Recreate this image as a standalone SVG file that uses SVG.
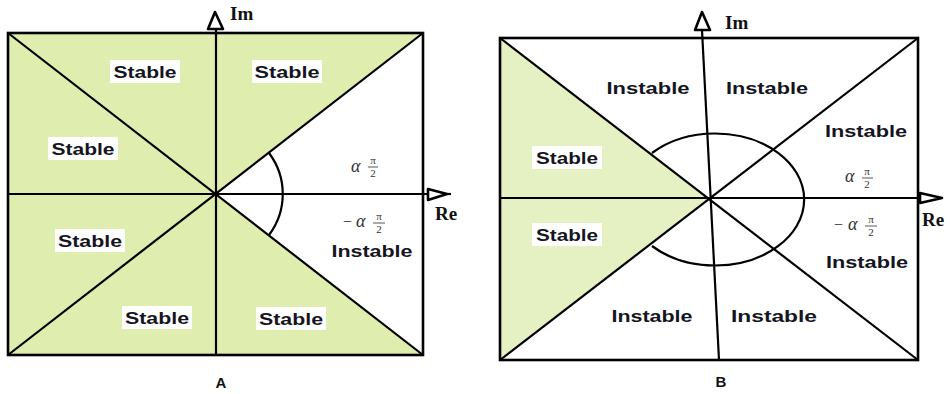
<svg xmlns="http://www.w3.org/2000/svg" width="950" height="394" viewBox="0 0 950 394">
<style>
.ln{stroke:#000;stroke-width:2.2;fill:none}
.bd{stroke:#000;stroke-width:2.6;fill:none}
.ar{stroke:#000;stroke-width:2.6;fill:#fff;stroke-linejoin:round}
.lab{font-family:"Liberation Sans",Arial,sans-serif;font-weight:bold;font-size:16px;fill:#151522;text-anchor:middle}
.box{fill:#fff}
.ax{font-family:"Liberation Serif","Times New Roman",serif;font-weight:bold;font-size:19px;fill:#111}
.m{font-family:"Liberation Serif","Times New Roman",serif;font-size:16px;fill:#333}
.mi{font-family:"Liberation Serif","Times New Roman",serif;font-style:italic;font-size:18px;fill:#333}
.fr{font-family:"Liberation Serif","Times New Roman",serif;font-size:11px;fill:#333;text-anchor:middle}
.cap{font-family:"Liberation Sans",Arial,sans-serif;font-weight:bold;font-size:15px;fill:#111;text-anchor:middle}
</style>
<rect width="950" height="394" fill="#fff"/>

<g id="panelA">
  <polygon points="8,33 423,33 215.5,194 423,355 8,355" fill="#dfedae"/>
  <line class="ln" x1="8" y1="33" x2="423" y2="355"/>
  <line class="ln" x1="8" y1="355" x2="423" y2="33"/>
  <path class="ln" d="M 269,153 A 68 68 0 0 1 269,235"/>
  <rect class="bd" x="8" y="33" width="415" height="322"/>
  <line class="ln" x1="216" y1="28" x2="216" y2="355"/>
  <line class="ln" x1="8" y1="194" x2="428" y2="194"/>
  <polygon class="ar" points="215,12 208,29 223,29"/>
  <polygon class="ar" points="428,189 428,200 447,194"/>
  <line class="ln" x1="447" y1="194" x2="451" y2="194"/>
  <text class="ax" x="230" y="20">Im</text>
  <text class="ax" x="435" y="220">Re</text>

  <g id="A_s1"><rect class="box" x="110" y="60" width="70" height="23"/><text class="lab" x="145" y="78" textLength="63" lengthAdjust="spacingAndGlyphs">Stable</text></g>
  <g id="A_s2"><rect class="box" x="252" y="60" width="70" height="23"/><text class="lab" x="287" y="78" textLength="65" lengthAdjust="spacingAndGlyphs">Stable</text></g>
  <g id="A_s3"><rect class="box" x="48" y="137" width="70" height="23"/><text class="lab" x="83" y="155" textLength="63" lengthAdjust="spacingAndGlyphs">Stable</text></g>
  <g id="A_s4"><rect class="box" x="55" y="229" width="70" height="23"/><text class="lab" x="90" y="247" textLength="64" lengthAdjust="spacingAndGlyphs">Stable</text></g>
  <g id="A_s5"><rect class="box" x="122" y="306" width="70" height="23"/><text class="lab" x="157" y="324" textLength="64" lengthAdjust="spacingAndGlyphs">Stable</text></g>
  <g id="A_s6"><rect class="box" x="256" y="307" width="70" height="23"/><text class="lab" x="291" y="325" textLength="64" lengthAdjust="spacingAndGlyphs">Stable</text></g>
  <text class="lab" x="372" y="257" textLength="81" lengthAdjust="spacingAndGlyphs">Instable</text>

  <g id="A_alpha1">
    <text class="mi" x="351" y="172">α</text>
    <text class="fr" x="373" y="164">π</text>
    <line x1="368" y1="167" x2="378" y2="167" stroke="#444" stroke-width="0.9"/>
    <text class="fr" x="373" y="177">2</text>
  </g>
  <g id="A_alpha2">
    <text class="m" x="343" y="227">−</text>
    <text class="mi" x="356" y="227">α</text>
    <text class="fr" x="379" y="220">π</text>
    <line x1="373" y1="223" x2="385" y2="223" stroke="#444" stroke-width="0.9"/>
    <text class="fr" x="379" y="233">2</text>
  </g>
  <text class="cap" x="221" y="388">A</text>
</g>

<g id="panelB">
  <polygon points="500,38 709,199 500,360" fill="#e5f0c3"/>
  <line class="ln" x1="500" y1="38" x2="918" y2="360"/>
  <line class="ln" x1="500" y1="360" x2="918" y2="38"/>
  <path class="ln" d="M 652,153 A 89 66 0 1 1 652,246"/>
  <rect class="bd" x="500" y="38" width="418" height="322"/>
  <line class="ln" x1="702" y1="30" x2="719" y2="360"/>
  <line class="ln" x1="500" y1="198" x2="922" y2="198"/>
  <polygon class="ar" points="702,12 695,30 710,30"/>
  <polygon class="ar" points="920,193 920,203 942,198"/>
  <text class="ax" x="725" y="29">Im</text>
  <text class="ax" x="922" y="226">Re</text>

  <g id="B_s1"><rect class="box" x="532" y="146" width="70" height="23"/><text class="lab" x="567" y="164" textLength="62" lengthAdjust="spacingAndGlyphs">Stable</text></g>
  <g id="B_s2"><rect class="box" x="532" y="223" width="70" height="23"/><text class="lab" x="567" y="241" textLength="62" lengthAdjust="spacingAndGlyphs">Stable</text></g>
  <text class="lab" x="648" y="94" textLength="83" lengthAdjust="spacingAndGlyphs">Instable</text>
  <text class="lab" x="767" y="94" textLength="82" lengthAdjust="spacingAndGlyphs">Instable</text>
  <text class="lab" x="866" y="137" textLength="82" lengthAdjust="spacingAndGlyphs">Instable</text>
  <text class="lab" x="867" y="268" textLength="82" lengthAdjust="spacingAndGlyphs">Instable</text>
  <text class="lab" x="652" y="322" textLength="81" lengthAdjust="spacingAndGlyphs">Instable</text>
  <text class="lab" x="774" y="322" textLength="86" lengthAdjust="spacingAndGlyphs">Instable</text>

  <g id="B_alpha1">
    <text class="mi" x="845" y="182">α</text>
    <text class="fr" x="867" y="175">π</text>
    <line x1="862" y1="178" x2="873" y2="178" stroke="#444" stroke-width="0.9"/>
    <text class="fr" x="867" y="188">2</text>
  </g>
  <g id="B_alpha2">
    <text class="m" x="834" y="230">−</text>
    <text class="mi" x="848" y="230">α</text>
    <text class="fr" x="871" y="223">π</text>
    <line x1="865" y1="226" x2="877" y2="226" stroke="#444" stroke-width="0.9"/>
    <text class="fr" x="871" y="236">2</text>
  </g>
  <text class="cap" x="721" y="387">B</text>
</g>
</svg>
